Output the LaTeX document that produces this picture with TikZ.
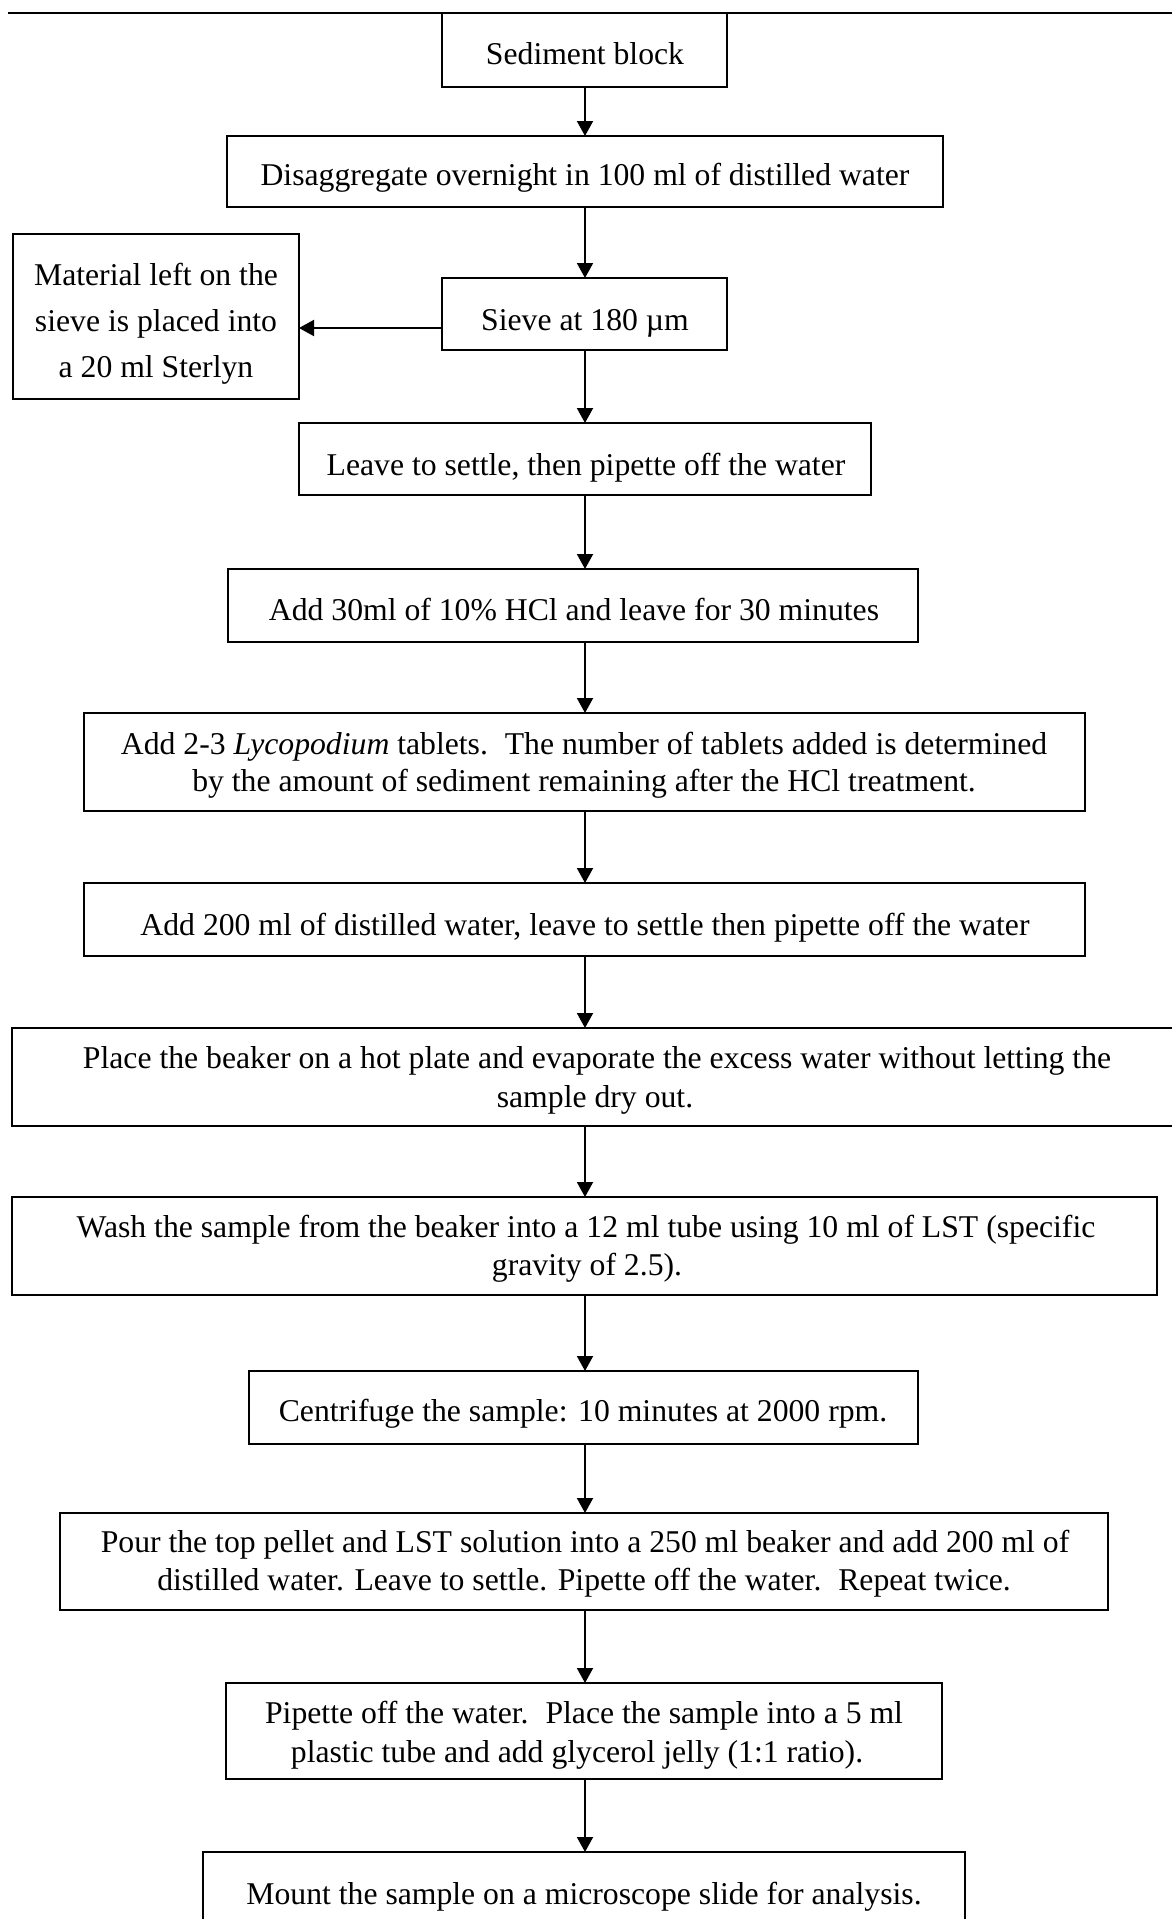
\documentclass[tikz,border=0pt]{standalone}
\usepackage{fontspec}
\setmainfont{Liberation Serif}
\usetikzlibrary{arrows.meta,calc}
\tikzset{
  box/.style={draw=black, line width=2.4pt, inner sep=0pt, outer sep=0pt, fill=none},
  txt/.style={anchor=base, inner sep=0pt, outer sep=0pt, font=\fontsize{31.7}{37}\selectfont},
  arr/.style={line width=2pt, -{Triangle[width=16pt,length=15pt]}},
  rule/.style={line width=2.4pt}
}
\newcommand\mkbox[5]{\node[box, minimum width={(#4-#2)*1pt}, minimum height={(#5-#3)*1pt}] (#1) at ({(#2+#4)/2},{(#3+#5)/2}) {};}
\newcommand\dsp{\hspace{0.2em}}
\begin{document}
\begin{tikzpicture}[x=1pt,y=-1pt]
\useasboundingbox (0,0) rectangle (1172,1919);
\clip (0,0) rectangle (1172,1919);
\coordinate (ax) at (585,0);
\coordinate (rl) at (8,13);
\coordinate (rr) at (1172,13);
\draw[rule] (rl) -- (rr);
% boxes
\mkbox{sed}{442}{13}{727}{87}
\mkbox{dis}{227}{136}{943}{207}
\mkbox{mat}{13}{234}{299}{399}
\mkbox{sieve}{442}{278}{727}{350}
\mkbox{leave}{299}{423}{871}{495}
\mkbox{hcl}{228}{569}{918}{642}
\mkbox{lyc}{84}{713}{1085}{811}
\mkbox{add}{84}{883}{1085}{956}
\mkbox{place}{12}{1028}{1182}{1126}
\mkbox{wash}{12}{1197}{1157}{1295}
\mkbox{cent}{249}{1371}{918}{1444}
\mkbox{pour}{60}{1513}{1108}{1610}
\mkbox{pip}{226}{1683}{942}{1779}
\mkbox{mount}{203}{1852}{965}{1940}
% texts
\node[txt] (sedA) at (585,65) {Sediment block};
\node[txt] (disA) at (585,185) {Disaggregate overnight in 100 ml of distilled water};
\node[txt] (matA) at (156,285) {Material left on the};
\node[txt] (matB) at (156,331) {sieve is placed into};
\node[txt] (matC) at (156,377) {a 20 ml Sterlyn};
\node[txt] (sieveA) at (585,330) {Sieve at 180 µm};
\node[txt] (leaveA) at (586,475) {Leave to settle, then pipette off the water};
\node[txt] (hclA) at (574,620) {Add 30ml of 10\% HCl and leave for 30 minutes};
\node[txt] (lycA) at (584,754) {Add 2-3 \textit{Lycopodium} tablets.\dsp{} The number of tablets added is determined};
\node[txt] (lycB) at (584,791) {by the amount of sediment remaining after the HCl treatment.};
\node[txt] (addA) at (585,935) {Add 200 ml of distilled water, leave to settle then pipette off the water};
\node[txt] (placeA) at (597,1068) {Place the beaker on a hot plate and evaporate the excess water without letting the};
\node[txt] (placeB) at (595,1107) {sample dry out.};
\node[txt] (washA) at (586,1237) {Wash the sample from the beaker into a 12 ml tube using 10 ml of LST (specific};
\node[txt] (washB) at (587,1275) {gravity of 2.5).};
\node[txt] (centA) at (583,1421) {Centrifuge the sample: 10 minutes at 2000 rpm.};
\node[txt] (pourA) at (585,1552) {Pour the top pellet and LST solution into a 250 ml beaker and add 200 ml of};
\node[txt] (pourB) at (584,1590) {distilled water. Leave to settle. Pipette off the water.\dsp{} Repeat twice.};
\node[txt] (pipA) at (584,1723) {Pipette off the water.\dsp{} Place the sample into a 5 ml};
\node[txt] (pipB) at (577,1762) {plastic tube and add glycerol jelly (1:1 ratio).};
\node[txt] (mountA) at (584,1904) {Mount the sample on a microscope slide for analysis.};
% connectors
\draw[arr] (sed.south -| ax) -- (dis.north -| ax);
\draw[arr] (dis.south -| ax) -- (sieve.north -| ax);
\coordinate (sl) at ($(sieve.west)+(0,14)$);
\draw[arr] (sl) -- (sl -| mat.east);
\draw[arr] (sieve.south -| ax) -- (leave.north -| ax);
\draw[arr] (leave.south -| ax) -- (hcl.north -| ax);
\draw[arr] (hcl.south -| ax) -- (lyc.north -| ax);
\draw[arr] (lyc.south -| ax) -- (add.north -| ax);
\draw[arr] (add.south -| ax) -- (place.north -| ax);
\draw[arr] (place.south -| ax) -- (wash.north -| ax);
\draw[arr] (wash.south -| ax) -- (cent.north -| ax);
\draw[arr] (cent.south -| ax) -- (pour.north -| ax);
\draw[arr] (pour.south -| ax) -- (pip.north -| ax);
\draw[arr] (pip.south -| ax) -- (mount.north -| ax);
\end{tikzpicture}
\end{document}
